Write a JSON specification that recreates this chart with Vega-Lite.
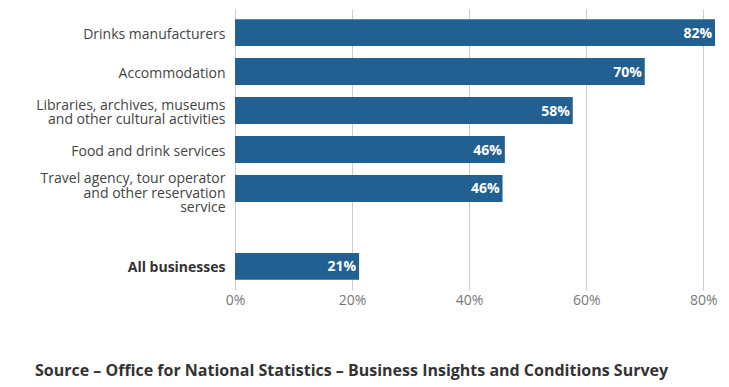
{
  "$schema": "https://vega.github.io/schema/vega-lite/v6.json",
  "autosize": "none",
  "width": 480,
  "height": 281,
  "padding": {"left": 235, "top": 9, "right": 14, "bottom": 97},
  "background": "white",
  "config": {
    "font": "Open Sans",
    "view": {"stroke": null}
  },
  "title": {
    "text": "Source – Office for National Statistics – Business Insights and Conditions Survey",
    "orient": "bottom",
    "anchor": "start",
    "frame": "group",
    "dx": -200,
    "offset": 56,
    "font": "Open Sans",
    "fontSize": 16,
    "fontWeight": "bold",
    "color": "#333333"
  },
  "data": {
    "values": [
      {"category": "Drinks manufacturers", "value": 0.82},
      {"category": "Accommodation", "value": 0.70},
      {"category": "Libraries, archives, museums|and other cultural activities", "value": 0.577},
      {"category": "Food and drink services", "value": 0.461},
      {"category": "Travel agency, tour operator|and other reservation|service", "value": 0.457},
      {"category": "All businesses", "value": 0.212}
    ]
  },
  "encoding": {
    "y": {
      "field": "category",
      "type": "nominal",
      "scale": {
        "domain": [
          "Drinks manufacturers",
          "Accommodation",
          "Libraries, archives, museums|and other cultural activities",
          "Food and drink services",
          "Travel agency, tour operator|and other reservation|service",
          " ",
          "All businesses"
        ],
        "paddingInner": 0.31,
        "paddingOuter": 0.26
      },
      "axis": {
        "title": null,
        "domain": false,
        "ticks": false,
        "labelPadding": 10,
        "labelFontSize": 14,
        "labelColor": {"condition": {"test": "datum.value == 'All businesses'", "value": "#333333"}, "value": "#444444"},
        "labelFontWeight": {"condition": {"test": "datum.value == 'All businesses'", "value": "bold"}, "value": "normal"},
        "labelLineHeight": 14.5,
        "labelOffset": {
          "condition": [
            {"test": "indexof(datum.value, 'Libraries') == 0", "value": -5},
            {"test": "indexof(datum.value, 'Travel') == 0", "value": -9}
          ],
          "value": 2
        },
        "labelLimit": 300,
        "labelExpr": "split(datum.label, '|')"
      }
    },
    "x": {
      "field": "value",
      "type": "quantitative",
      "scale": {"domain": [0, 0.82], "nice": false},
      "axis": {
        "title": null,
        "values": [0, 0.2, 0.4, 0.6, 0.8],
        "format": ".0%",
        "domain": false,
        "ticks": false,
        "grid": true,
        "gridColor": "#cccccc",
        "gridWidth": 1,
        "labelFontSize": 14,
        "labelColor": "#777777",
        "labelPadding": 3,
        "labelFlush": false
      }
    }
  },
  "layer": [
    {"mark": {"type": "bar", "color": "#216091"}},
    {
      "mark": {"type": "text", "align": "right", "baseline": "middle", "dx": -3, "dy": 1, "color": "white", "fontWeight": "bold", "fontSize": 14},
      "encoding": {"text": {"field": "value", "type": "quantitative", "format": ".0%"}}
    }
  ]
}
